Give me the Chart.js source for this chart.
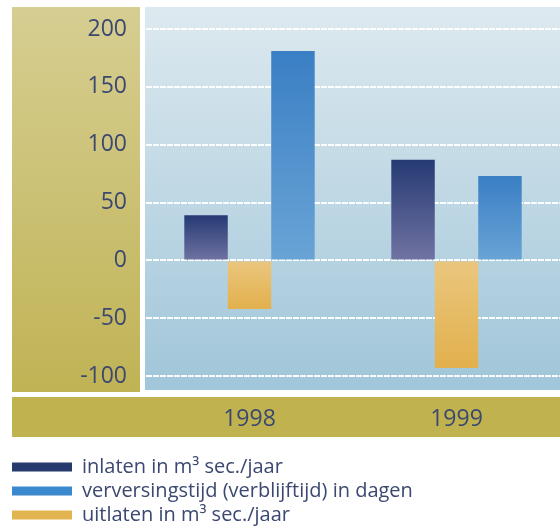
<!DOCTYPE html>
<html>
<head>
<meta charset="utf-8">
<script src="https://cdn.jsdelivr.net/npm/chart.js@4/dist/chart.umd.min.js"></script>
<style>
  html, body { margin: 0; padding: 0; background: #fff; }
  #wrap { width: 560px; height: 532px; }
</style>
</head>
<body>
<div id="wrap"><canvas id="grafiek"></canvas></div>
<script>
const jaren = ['1998', '1999'];
const inlaten = [39, 87];
const uitlaten = [-42, -93];
const verversingstijd = [181, 73];
const yTicks = [-100, -50, 0, 50, 100, 150, 200];
const yMin = -112, yMax = 219;
const legendaVolgorde = [0, 2, 1];

const tekstKleur = '#3b4870';
const lettertype = "'Open Sans', 'DejaVu Sans', sans-serif";

// verloop per staaf, van de nullijn naar de kop
function verloop(boven, onder, vlak) {
  return ctx => {
    const chart = ctx.chart;
    const y = chart.scales.y;
    if (ctx.type !== 'data' || !chart.chartArea || !y) return vlak;
    const y0 = y.getPixelForValue(0);
    const y1 = y.getPixelForValue(ctx.raw);
    const g = chart.ctx.createLinearGradient(0, Math.min(y0, y1), 0, Math.max(y0, y1) + 1);
    g.addColorStop(0, boven);
    g.addColorStop(1, onder);
    return g;
  };
}

const kleuren = ['#263a6e', '#e2b450', '#3a88ce'];

const achtergrond = {
  id: 'achtergrond',
  beforeDraw(chart) {
    const { ctx, chartArea: a } = chart;
    // linker paneel (as-labels)
    let g = ctx.createLinearGradient(0, a.top, 0, a.bottom + 2);
    g.addColorStop(0, '#d6ce92');
    g.addColorStop(1, '#c0b355');
    ctx.fillStyle = g;
    ctx.fillRect(12, a.top, 128, a.bottom + 2 - a.top);
    // grafiekvlak
    g = ctx.createLinearGradient(0, a.top, 0, a.bottom);
    g.addColorStop(0, '#dde9ef');
    g.addColorStop(1, '#a0c6d9');
    ctx.fillStyle = g;
    ctx.fillRect(a.left - 1, a.top, a.right - a.left + 1, a.bottom - a.top);
    // onderste band met jaartallen
    ctx.fillStyle = '#bfb24f';
    ctx.fillRect(12, a.bottom + 7, a.right - 12, 40);
  }
};

new Chart(document.getElementById('grafiek'), {
  type: 'bar',
  data: {
    labels: jaren,
    datasets: [
      {
        label: 'inlaten in m³ sec./jaar',
        data: inlaten,
        backgroundColor: verloop('#263a74', '#7174a2', kleuren[0])
      },
      {
        label: 'uitlaten in m³ sec./jaar',
        data: uitlaten,
        backgroundColor: verloop('#eac67e', '#e2b04c', kleuren[1])
      },
      {
        label: 'verversingstijd (verblijftijd) in dagen',
        data: verversingstijd,
        backgroundColor: verloop('#3a7fc4', '#6aa4d6', kleuren[2])
      }
    ]
  },
  options: {
    responsive: true,
    maintainAspectRatio: false,
    animation: false,
    categoryPercentage: 0.63,
    barPercentage: 1,
    layout: { padding: { left: 8, top: 7, right: 0, bottom: -3 } },
    plugins: {
      tooltip: { enabled: false },
      legend: {
        position: 'bottom',
        align: 'start',
        labels: {
          boxWidth: 60,
          boxHeight: 9,
          padding: 4,
          color: tekstKleur,
          font: { family: lettertype, size: 20 },
          sort: (a, b) => legendaVolgorde.indexOf(a.datasetIndex) - legendaVolgorde.indexOf(b.datasetIndex),
          generateLabels: chart => Chart.defaults.plugins.legend.labels.generateLabels(chart).map(item => {
            item.fillStyle = kleuren[item.datasetIndex];
            item.lineWidth = 0;
            item.strokeStyle = 'transparent';
            return item;
          })
        }
      }
    },
    scales: {
      x: {
        grid: { display: false },
        border: { display: false },
        ticks: { color: tekstKleur, font: { family: lettertype, size: 23 }, padding: 8 },
        afterFit: s => { s.height = 63; s.paddingLeft = 0; s.paddingRight = 0; }
      },
      y: {
        min: yMin,
        max: yMax,
        afterBuildTicks: s => { s.ticks = yTicks.map(v => ({ value: v })); },
        grid: { color: 'rgba(255,255,255,0.95)', lineWidth: 2, drawTicks: false },
        border: { display: false, dash: [6, 1] },
        ticks: { color: tekstKleur, font: { family: lettertype, size: 23 }, padding: 19 },
        afterFit: s => { s.width = 138; s.paddingTop = 0; s.paddingBottom = 0; }
      }
    }
  },
  plugins: [achtergrond]
});
</script>
</body>
</html>
